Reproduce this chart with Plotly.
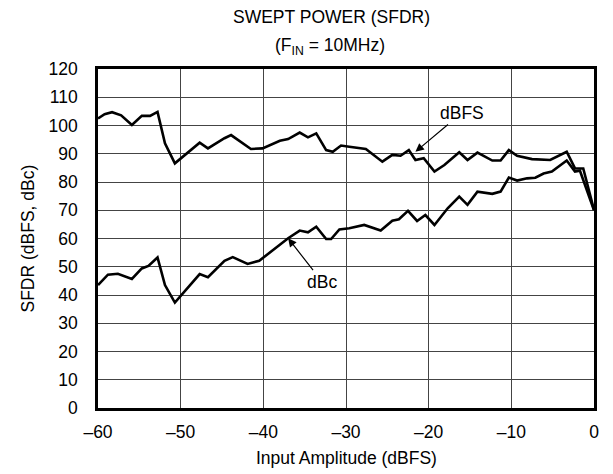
import plotly.graph_objects as go

x_ticks = [-60, -50, -40, -30, -20, -10, 0]
x_tick_labels = ["\u201360", "\u201350", "\u201340", "\u201330", "\u201320", "\u201310", "0"]
y_ticks = list(range(0, 121, 10))

dbfs_x = [-60, -59.2, -58.3, -57.2, -55.9, -54.7, -53.7, -52.8, -51.9, -50.7, -47.7, -46.7,
          -44.7, -43.9, -41.5, -40.1, -38.0, -37.0, -35.6, -34.6, -33.6, -32.4, -31.6, -30.6,
          -29.6, -27.6, -25.6, -24.4, -23.4, -22.4, -21.6, -20.6, -19.3, -18.1, -16.3, -15.3,
          -14.1, -12.3, -11.3, -10.3, -9.3, -7.5, -5.3, -3.3, -2.3, -1.3, 0]
dbfs_y = [102.5, 104.0, 104.7, 103.6, 100.2, 103.4, 103.4, 104.8, 93.7, 86.6, 93.9, 91.9,
          95.5, 96.6, 91.7, 91.9, 94.6, 95.2, 97.5, 95.8, 97.2, 91.3, 90.7, 92.9,
          92.5, 91.7, 87.2, 89.6, 89.3, 91.3, 87.8, 88.4, 83.7, 86.0, 90.5, 87.8,
          90.4, 87.6, 87.6, 91.3, 89.3, 88.1, 87.8, 90.7, 84.8, 84.8, 70.1]

dbc_x = [-60, -58.8, -57.6, -55.9, -54.7, -53.9, -52.8, -51.9, -50.7, -47.7, -46.7, -44.7,
         -43.7, -41.9, -40.5, -37.0, -35.6, -34.6, -33.6, -32.4, -31.8, -30.8, -29.6, -27.8,
         -25.8, -24.4, -23.6, -22.5, -21.4, -20.4, -19.3, -17.7, -16.3, -15.3, -14.1, -12.3,
         -11.3, -10.3, -9.3, -8.1, -7.1, -6.1, -5.1, -3.3, -2.3, -1.7, 0]
dbc_y = [43.5, 47.2, 47.5, 45.7, 49.4, 50.3, 53.3, 43.5, 37.3, 47.4, 46.3, 52.1,
         53.4, 51.0, 52.1, 60.1, 62.8, 62.2, 64.2, 59.8, 59.8, 63.2, 63.6, 64.8,
         62.8, 66.3, 66.8, 69.8, 66.2, 68.3, 64.8, 70.7, 74.8, 71.9, 76.6, 75.8,
         76.6, 81.6, 80.5, 81.3, 81.5, 83.0, 83.7, 87.6, 83.7, 84.0, 70.0]

FONT = "Liberation Sans, Arial, sans-serif"
FS = 17.5

fig = go.Figure()
fig.add_trace(go.Scatter(x=dbfs_x, y=dbfs_y, mode="lines",
                         line=dict(color="black", width=2.6), showlegend=False))
fig.add_trace(go.Scatter(x=dbc_x, y=dbc_y, mode="lines",
                         line=dict(color="black", width=2.6), showlegend=False))

# page body adds an ~8px offset, so the figure is sized to compensate
fig.update_layout(
    width=605, height=466,
    margin=dict(l=90, r=19, t=61, b=66, autoexpand=False),
    paper_bgcolor="white", plot_bgcolor="white",
    font=dict(family=FONT, size=FS, color="black"),
    showlegend=False,
)
fig.update_xaxes(range=[-60, 0], tickvals=x_ticks, ticktext=x_tick_labels,
                 showgrid=True, gridcolor="#444", gridwidth=1,
                 showline=True, linecolor="black", linewidth=2.5, mirror=True,
                 ticks="", zeroline=False, tickfont=dict(size=FS),
                 ticklabelstandoff=6, automargin=False)
fig.update_yaxes(range=[0, 120], tickvals=y_ticks,
                 showgrid=True, gridcolor="#444", gridwidth=1,
                 showline=True, linecolor="black", linewidth=2.5, mirror=True,
                 ticks="", zeroline=False, tickfont=dict(size=FS),
                 ticklabelstandoff=14, automargin=False)

# axis titles
fig.add_annotation(text="Input Amplitude (dBFS)", xref="paper", yref="paper",
                   x=0.5, y=0, yshift=-50, showarrow=False, yanchor="middle",
                   font=dict(size=FS))
fig.add_annotation(text="SFDR (dBFS, dBc)", xref="paper", yref="paper",
                   x=0, y=0.5, xshift=-71, showarrow=False, textangle=-90,
                   xanchor="center", yanchor="middle", font=dict(size=FS))

# chart title
fig.add_annotation(text="SWEPT POWER (SFDR)", xref="paper", yref="paper",
                   x=0.5, y=1, xshift=-15, yshift=52, showarrow=False,
                   font=dict(size=FS), yanchor="middle", borderpad=0)
fig.add_annotation(text="(F<sub>IN</sub> = 10MHz)", xref="paper", yref="paper",
                   x=0.5, y=1, xshift=-16, yshift=23, showarrow=False,
                   font=dict(size=FS), yanchor="middle")

fig.add_annotation(text="dBFS", x=-21.6, y=90.7, ax=-16.0, ay=104.4, axref="x", ayref="y",
                   xref="x", yref="y", showarrow=True, arrowhead=2, arrowsize=1.4,
                   arrowwidth=1.2, arrowcolor="black", standoff=0, font=dict(size=FS))
fig.add_annotation(text="dBc", x=-37.0, y=60.1, ax=-32.9, ay=44.7, axref="x", ayref="y",
                   xref="x", yref="y", showarrow=True, arrowhead=2, arrowsize=1.4,
                   arrowwidth=1.2, arrowcolor="black", standoff=0, font=dict(size=FS))

fig.write_html("out.html")
